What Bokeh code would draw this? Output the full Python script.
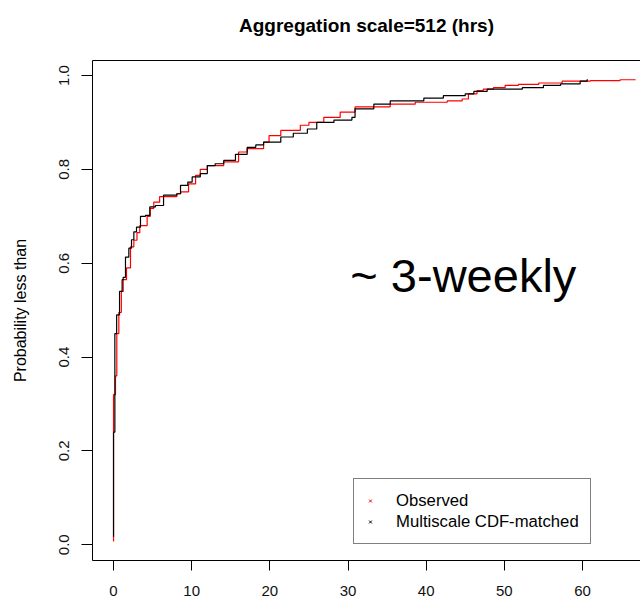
from bokeh.plotting import figure
from bokeh.models import (Range1d, FixedTicker, LinearAxis, Legend, LegendItem,
                          Label, PrintfTickFormatter)
from bokeh.embed import file_html
from bokeh.resources import INLINE

# ---------------- data ----------------
title_text = "Aggregation scale=512 (hrs)"
y_label = "Probability less than"
annotation_text = "~ 3-weekly"
series_names = ["Observed", "Multiscale CDF-matched"]
x_ticks = [0, 10, 20, 30, 40, 50, 60]
y_ticks = [0.0, 0.2, 0.4, 0.6, 0.8, 1.0]

# Observed (red) empirical CDF: jump locations and CDF value after each jump
observed_x = [0.0, 0.0, 0.25, 0.42, 0.68, 1.0, 1.24, 1.66, 2.17, 2.6, 3.0, 3.36,
              4.3, 4.7, 5.15, 5.9, 8.1, 8.6, 9.6, 10.5, 11.1, 12.0, 14.1, 16.0,
              17.1, 19.2, 19.9, 21.4, 23.9, 25.0, 26.9, 29.0, 30.9, 35.4, 38.6,
              42.7, 44.6, 45.4, 46.5, 47.3, 48.6, 50.1, 51.8, 54.4, 57.4, 61.0,
              64.8, 66.8]
observed_y = [0.007, 0.32, 0.36, 0.45, 0.495, 0.54, 0.565, 0.59, 0.635, 0.649, 0.665, 0.68,
              0.70, 0.717, 0.73, 0.742, 0.748, 0.752, 0.769, 0.787, 0.80, 0.808, 0.816, 0.837,
              0.844, 0.858, 0.872, 0.883, 0.894, 0.90, 0.911, 0.922, 0.933, 0.939, 0.943,
              0.946, 0.95, 0.961, 0.968, 0.971, 0.974, 0.979, 0.981, 0.984, 0.988, 0.989,
              0.991, 0.991]

# Multiscale CDF-matched (black) empirical CDF
multiscale_x = [0.0, 0.0, 0.17, 0.4, 0.77, 1.1, 1.24, 1.53, 1.96, 2.3, 2.6, 2.94,
                3.45, 4.1, 4.64, 5.37, 6.4, 8.1, 8.57, 9.5, 10.06, 11.1, 12.0, 13.0,
                14.1, 15.6, 17.1, 18.2, 19.2, 21.4, 23.0, 24.8, 26.0, 28.2, 30.5, 30.9,
                33.3, 35.4, 39.7, 42.2, 45.0, 46.1, 47.8, 49.5, 52.3, 55.0, 57.2, 59.7,
                60.6]
multiscale_y = [0.017, 0.24, 0.45, 0.49, 0.54, 0.565, 0.57, 0.613, 0.632, 0.65, 0.667, 0.677,
                0.70, 0.702, 0.72, 0.723, 0.745, 0.748, 0.766, 0.773, 0.784, 0.791, 0.808, 0.812,
                0.819, 0.832, 0.847, 0.852, 0.858, 0.869, 0.877, 0.886, 0.90, 0.905, 0.911, 0.929,
                0.939, 0.946, 0.952, 0.957, 0.961, 0.966, 0.971, 0.971, 0.974, 0.979, 0.982, 0.988,
                0.992]

FONT = "Liberation Sans"

p = figure(width=640, height=598, output_backend="svg", toolbar_location=None,
           x_range=Range1d(-2.69, 67.42), y_range=Range1d(-0.0335, 1.032),
           min_border_left=92, min_border_right=0, min_border_top=60,
           min_border_bottom=38, x_axis_location=None, y_axis_location=None)

p.outline_line_color = None
p.xgrid.visible = False
p.ygrid.visible = False
p.background_fill_color = "white"
p.border_fill_color = "white"

# title (an empty second line lifts the title away from the box)
p.title.text = title_text + "\n"
p.title.align = "center"
p.title.text_font = FONT
p.title.text_font_size = "19px"
p.title.text_font_style = "bold"
p.title.text_color = "black"
p.title.standoff = 8

# bottom axis
xaxis = LinearAxis(ticker=FixedTicker(ticks=x_ticks))
xaxis.major_tick_in = 0
xaxis.major_tick_out = 10
xaxis.minor_tick_line_color = None
xaxis.major_label_standoff = 15
xaxis.major_label_text_font = FONT
xaxis.major_label_text_font_size = "15px"
xaxis.major_label_text_color = "#111111"
xaxis.axis_line_color = "black"
xaxis.major_tick_line_color = "black"
p.add_layout(xaxis, "below")

# left axis
yaxis = LinearAxis(ticker=FixedTicker(ticks=y_ticks), axis_label=y_label,
                   formatter=PrintfTickFormatter(format="%.1f"))
yaxis.major_tick_in = 0
yaxis.major_tick_out = 11
yaxis.minor_tick_line_color = None
yaxis.major_label_orientation = "parallel"
yaxis.major_label_standoff = 12
yaxis.major_label_text_font = FONT
yaxis.major_label_text_font_size = "15px"
yaxis.major_label_text_color = "#111111"
yaxis.axis_label_text_font = FONT
yaxis.axis_label_text_font_size = "16px"
yaxis.axis_label_text_font_style = "normal"
yaxis.axis_label_text_color = "black"
yaxis.axis_label_standoff = 28
yaxis.axis_line_color = "black"
yaxis.major_tick_line_color = "black"
p.add_layout(yaxis, "left")

# top edge of the box (no ticks, no labels)
topaxis = LinearAxis(ticker=FixedTicker(ticks=[]))
topaxis.major_tick_in = 0
topaxis.major_tick_out = 0
topaxis.major_label_standoff = 0
topaxis.major_tick_line_color = None
topaxis.minor_tick_line_color = None
topaxis.major_label_text_font_size = "0px"
topaxis.axis_line_color = "black"
p.add_layout(topaxis, "above")

# curves
p.step(observed_x, observed_y, mode="after", line_color="#ff0000", line_width=1.2)
p.step(multiscale_x, multiscale_y, mode="after", line_color="black", line_width=1.2)

# legend proxies: zero-size cross markers (legend glyph size comes from legend box)
r_obs = p.scatter(observed_x, observed_y, marker="x", size=0,
                  line_color="#ff0000", line_width=1)
r_mul = p.scatter(multiscale_x, multiscale_y, marker="x", size=0,
                  line_color="black", line_width=1)

legend = Legend(items=[LegendItem(label=series_names[0], renderers=[r_obs]),
                       LegendItem(label=series_names[1], renderers=[r_mul])],
                location=(261, 16), orientation="vertical")
legend.border_line_color = "black"
legend.border_line_width = 1
legend.background_fill_color = "white"
legend.background_fill_alpha = 1.0
legend.padding = 11
legend.spacing = 0
legend.margin = 0
legend.glyph_width = 10
legend.glyph_height = 21
legend.label_height = 21
legend.label_standoff = 21
legend.label_text_font = FONT
legend.label_text_font_size = "16.7px"
legend.label_text_color = "black"
p.add_layout(legend, "center")

# annotation
ann = Label(x=30.3, y=0.573, text=annotation_text, text_font=FONT,
            text_font_size="47px", text_color="black", text_baseline="alphabetic")
p.add_layout(ann)

open("out.html", "w").write(file_html(p, INLINE))
